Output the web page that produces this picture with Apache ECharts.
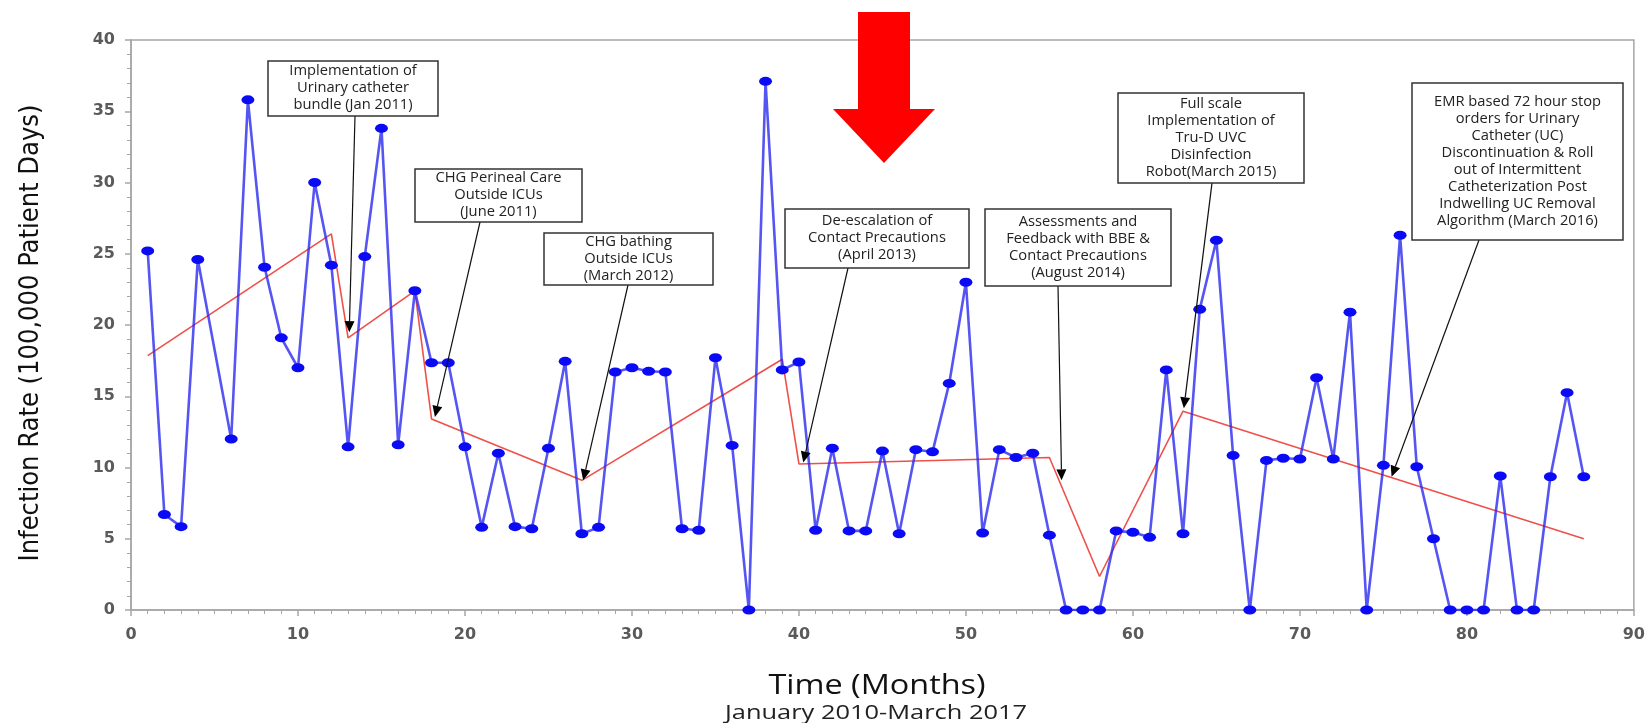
<!DOCTYPE html>
<html><head><meta charset="utf-8">
<script src="https://cdn.jsdelivr.net/npm/echarts@6/dist/echarts.min.js"></script>
<style>html,body{margin:0;padding:0;background:#fff}#c{width:1648px;height:723px}</style>
</head><body><div id="c"></div>
<script>
// ---- data ----
const months = [1,2,3,4,5,6,7,8,9,10,11,12,13,14,15,16,17,18,19,20,21,22,23,24,25,26,27,28,29,30,
  31,32,33,34,35,36,37,38,39,40,41,42,43,44,45,46,47,48,49,50,51,52,53,54,55,56,57,58,59,60,
  61,62,63,64,65,66,67,68,69,70,71,72,73,74,75,76,77,78,79,80,81,82,83,84,85,86,87];
const infectionRate = [25.2,6.7,5.85,24.6,null,12.0,35.8,24.05,19.1,17.0,30.0,24.2,11.45,24.8,33.8,11.6,22.4,17.35,17.35,11.45,
  5.8,11.0,5.85,5.7,11.35,17.45,5.35,5.8,16.7,17.0,16.75,16.7,5.7,5.6,17.7,11.55,0,37.1,16.85,17.4,
  5.6,11.35,5.55,5.55,11.15,5.35,11.25,11.1,15.9,23.0,5.4,11.25,10.7,11.0,5.25,0,0,0,5.55,5.45,
  5.1,16.85,5.35,21.1,25.95,10.85,0,10.5,10.65,10.6,16.3,10.6,20.9,0,10.15,26.3,10.05,5.0,0,0,
  0,9.4,0,0,9.35,15.25,9.35];
const trendMonths = [1,12,13,17,18,27,39,40,55,58,63,87];
const trendValues = [17.85,26.4,19.1,22.4,13.4,9.1,17.6,10.25,10.7,2.35,13.95,5.0];
const annotationTexts = [
  'Implementation of\nUrinary catheter\nbundle (Jan 2011)',
  'CHG Perineal Care\nOutside ICUs\n(June 2011)',
  'CHG bathing\nOutside ICUs\n(March 2012)',
  'De-escalation of\nContact Precautions\n(April 2013)',
  'Assessments and\nFeedback with BBE &\nContact Precautions\n(August 2014)',
  'Full scale\nImplementation of\nTru-D UVC\nDisinfection\nRobot(March 2015)',
  'EMR based 72 hour stop\norders for Urinary\nCatheter (UC)\nDiscontinuation & Roll\nout of Intermittent\nCatheterization Post\nIndwelling UC Removal\nAlgorithm (March 2016)'
];
const annotationMonths = [13.07,18.2,27.08,40.26,55.73,63.05,75.49];
const annotationValues = [19.5,13.55,9.1,10.35,9.1,14.15,9.35];
const yAxisTitle = 'Infection Rate (100,000 Patient Days)';
const xAxisTitle = 'Time (Months)';
const xAxisSubtitle = 'January 2010-March 2017';

// ---- layout (pixels) ----
const boxes = [
  {x:268,y:61,w:170,h:55,lx:355},
  {x:415,y:169,w:167,h:53,lx:480},
  {x:544,y:233,w:169,h:52,lx:628},
  {x:785,y:209,w:184,h:59,lx:848},
  {x:985,y:209,w:186,h:77,lx:1058},
  {x:1118,y:93,w:186,h:90,lx:1212},
  {x:1412,y:83,w:211,h:157,lx:1479}
];

const chart = echarts.init(document.getElementById('c'), null, {renderer:'canvas'});
const blueData = months.map((m,i)=>[m, infectionRate[i]]);
const redData = trendMonths.map((m,i)=>[m, trendValues[i]]);
const axisColor = '#a6a6a6';
const labelStyle = {color:'#5a5a5a', fontSize:16, fontWeight:'bold', fontFamily:'DejaVu Sans, Arial'};

chart.setOption({
  animation:false,
  grid:{left:131,right:14,top:40,bottom:113,show:true,borderColor:axisColor,borderWidth:1.5,backgroundColor:'transparent'},
  xAxis:{type:'value',min:0,max:90,interval:10,
    axisLine:{lineStyle:{color:axisColor,width:1.5}},
    axisTick:{show:true,inside:false,length:6,lineStyle:{color:axisColor,width:1.5}},
    minorTick:{show:true,splitNumber:10,length:4,lineStyle:{color:axisColor,width:1}},
    splitLine:{show:false},
    axisLabel:Object.assign({margin:17},labelStyle)},
  yAxis:{type:'value',min:0,max:40,interval:5,
    axisLine:{show:true,lineStyle:{color:axisColor,width:1.5}},
    axisTick:{show:true,inside:false,length:6,lineStyle:{color:axisColor,width:1.5}},
    minorTick:{show:true,splitNumber:5,length:4,lineStyle:{color:axisColor,width:1}},
    splitLine:{show:false},
    axisLabel:Object.assign({margin:16},labelStyle)},
  series:[
    {type:'line',data:redData,symbol:'none',z:2,
     lineStyle:{color:'#f0504a',width:1.6}},
    {type:'line',data:blueData,connectNulls:true,symbol:'circle',symbolSize:[13,9],z:3,
     lineStyle:{color:'#2a2af0',width:2.6,opacity:0.8},
     itemStyle:{color:'#0a0af5'}}
  ]
});

const g = [];
// axis titles
g.push({type:'text',x:31,y:333,rotation:Math.PI/2,z:10,
  style:{text:yAxisTitle,fill:'#111',font:'27px "Liberation Sans Narrow", "DejaVu Sans Condensed", sans-serif',align:'center',verticalAlign:'middle'}});
g.push({type:'text',x:877,y:686,scaleX:1.2,z:10,
  style:{text:xAxisTitle,fill:'#111',font:'27px "Open Sans", sans-serif',align:'center',verticalAlign:'middle'}});
g.push({type:'text',x:876,y:713,scaleX:1.27,z:10,
  style:{text:xAxisSubtitle,fill:'#222',font:'20px "Open Sans", sans-serif',align:'center',verticalAlign:'middle'}});
// big red arrow
g.push({type:'polygon',z:10,shape:{points:[[858,12],[910,12],[910,109],[935,109],[884,163],[833,109],[858,109]]},style:{fill:'#ff0000'}});
// annotations
boxes.forEach((b,i)=>{
  const tip = chart.convertToPixel({gridIndex:0},[annotationMonths[i],annotationValues[i]]);
  const sx = b.lx, sy = b.y + b.h;
  const dx = tip[0]-sx, dy = tip[1]-sy, len = Math.hypot(dx,dy);
  const ux = dx/len, uy = dy/len, L = 11, W = 5;
  const bx = tip[0]-ux*L, by = tip[1]-uy*L;
  g.push({type:'line',z:11,shape:{x1:sx,y1:sy,x2:bx,y2:by},style:{stroke:'#111',lineWidth:1.2}});
  g.push({type:'polygon',z:11,shape:{points:[[tip[0],tip[1]],[bx-uy*W,by+ux*W],[bx+uy*W,by-ux*W]]},style:{fill:'#000'}});
  g.push({type:'rect',z:12,shape:{x:b.x,y:b.y,width:b.w,height:b.h},style:{fill:'#fff',stroke:'#333',lineWidth:1.5}});
  g.push({type:'text',z:13,x:b.x+b.w/2,y:b.y+b.h/2,scaleX:1.05,
    style:{text:annotationTexts[i],fill:'#222',font:'14px "Open Sans", sans-serif',lineHeight:17,align:'center',verticalAlign:'middle'}});
});
chart.setOption({graphic:g});
</script></body></html>
